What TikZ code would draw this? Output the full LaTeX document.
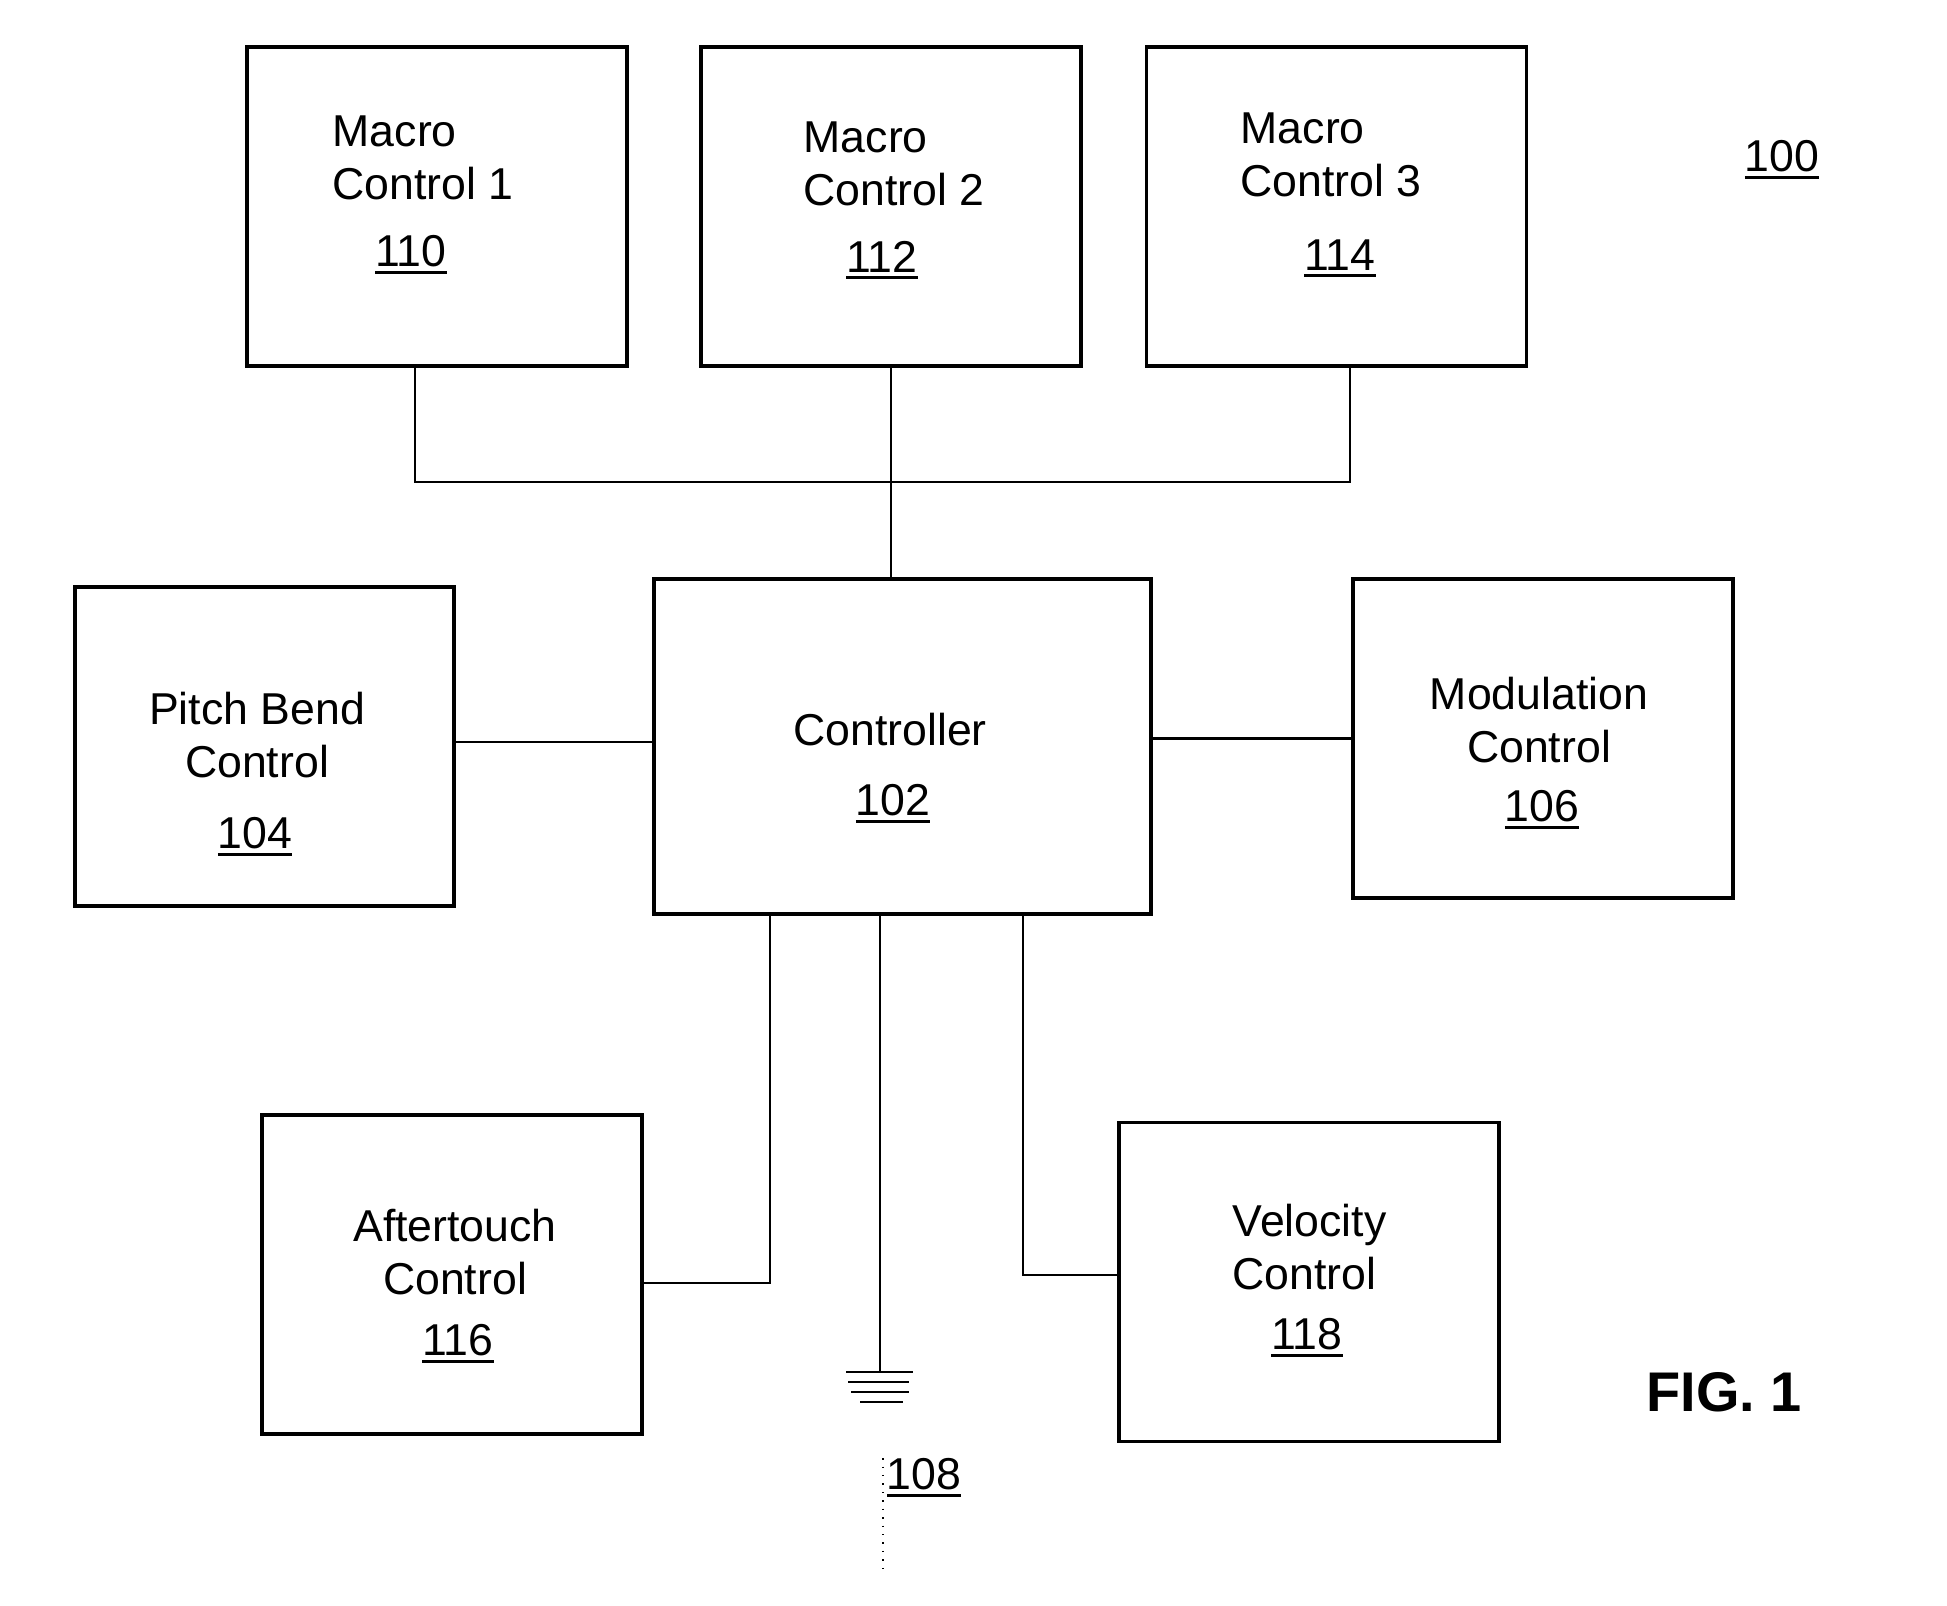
\documentclass[tikz,border=0pt]{standalone}
\usepackage{fontspec}
\setmainfont{Liberation Sans}
\usepackage{tikz}
\usetikzlibrary{positioning,calc}
\newcommand\refnum[1]{\leavevmode\vtop{\hbox{#1}\kern0.9pt\hrule height 0.85pt}}
\tikzset{
  box/.style  = {draw, line width=1.1pt, minimum width=3.80cm, minimum height=3.19cm, inner sep=0pt},
  wire/.style = {line width=0.65pt},
  ttl/.style  = {inner sep=0pt, font=\fontsize{12.7}{15.2}\selectfont},
  num/.style  = {ttl, anchor=base},
  gbar/.style = {line width=0.75pt},
}

\begin{document}
\begin{tikzpicture}
    \useasboundingbox (0,0) rectangle (19.47,-16.06);
    % Row 1: macro controls
    \node[box] (mc1) at (4.37,-2.065)  {};
    \node[box] (mc2) at (8.91,-2.065)  {};
    \node[box] (mc3) at (13.365,-2.065) {};
    % Row 2: controller and side controls
    \node[box, minimum width=3.79cm] (pb) at (2.645,-7.465) {};
    \node[box, minimum width=4.97cm, minimum height=3.35cm] (ctrl) at (9.025,-7.465) {};
    \node[box] (mod) at (15.43,-7.385) {};
    % Row 3: aftertouch and velocity
    \node[box] (aft) at (4.52,-12.745) {};
    \node[box] (vel) at (13.09,-12.82) {};

    % texts
    \node[ttl, anchor=north west, align=left] (tmc1) at (3.32,-1.15) {Macro\\Control 1};
    \node[num] (n110) at (4.11,-2.67) {\refnum{110}};
    \node[ttl, anchor=north west, align=left] (tmc2) at (8.03,-1.21) {Macro\\Control 2};
    \node[num] (n112) at (8.82,-2.73) {\refnum{112}};
    \node[ttl, anchor=north west, align=left] (tmc3) at (12.40,-1.12) {Macro\\Control 3};
    \node[num] (n114) at (13.40,-2.71) {\refnum{114}};
    \node[ttl, anchor=north, align=center] (tpb) at (2.57,-6.91) {Pitch Bend\\Control};
    \node[num] (n104) at (2.55,-8.49) {\refnum{104}};
    \node[num] (tctrl) at (8.90,-7.46) {Controller};
    \node[num] (n102) at (8.93,-8.16) {\refnum{102}};
    \node[ttl, anchor=north, align=center] (tmod) at (15.39,-6.76) {Modulation\\Control};
    \node[num] (n106) at (15.42,-8.22) {\refnum{106}};
    \node[ttl, anchor=north, align=center] (taft) at (4.55,-12.08) {Aftertouch\\Control};
    \node[num] (n116) at (4.58,-13.56) {\refnum{116}};
    \node[ttl, anchor=north west, align=left] (tvel) at (12.32,-12.03) {Velocity\\Control};
    \node[num] (n118) at (13.07,-13.50) {\refnum{118}};
    \node[num] (n100) at (17.82,-1.72) {\refnum{100}};
    \node[num] (n108) at (9.24,-14.90) {\refnum{108}};
    \node[ttl, anchor=base, font=\fontsize{15.9}{18}\selectfont\bfseries] (fig) at (17.24,-14.12) {FIG. 1};

    % bus to the macro controls
    \coordinate (bus) at (8.90,-4.82);
    \draw[wire] ([xshift=-0.22cm]mc1.south) |- (bus);
    \draw[wire] (bus) -| ([xshift=0.135cm]mc3.south);
    \draw[wire] (mc2.south) -- (mc2.south |- ctrl.north);

    % side controls
    \draw[wire] ([yshift=0.045cm]pb.east) -- ([yshift=0.045cm]pb.east -| ctrl.west);
    \draw[wire] (mod.west) -- (mod.west -| ctrl.east);
    \draw[wire] ([xshift=-1.325cm]ctrl.south) |- ([yshift=-0.085cm]aft.east);
    \draw[wire] ([xshift=1.205cm]ctrl.south) |- ([yshift=0.07cm]vel.west);

    % ground 108
    \coordinate (gnd) at (8.80,-13.72);
    \draw[wire] (gnd |- ctrl.south) -- (gnd);
    \draw[gbar] ([xshift=-0.34cm]gnd) -- ([xshift=0.33cm]gnd);
    \draw[gbar] ([xshift=-0.32cm,yshift=-0.10cm]gnd) -- ([xshift=0.29cm,yshift=-0.10cm]gnd);
    \draw[gbar] ([xshift=-0.29cm,yshift=-0.20cm]gnd) -- ([xshift=0.29cm,yshift=-0.20cm]gnd);
    \draw[gbar] ([xshift=-0.20cm,yshift=-0.30cm]gnd) -- ([xshift=0.23cm,yshift=-0.30cm]gnd);
    \coordinate (leadend) at (8.83,-15.70);
    \draw[dotted, line width=0.4pt] (leadend |- n108.north) -- (leadend);
\end{tikzpicture}
\end{document}
